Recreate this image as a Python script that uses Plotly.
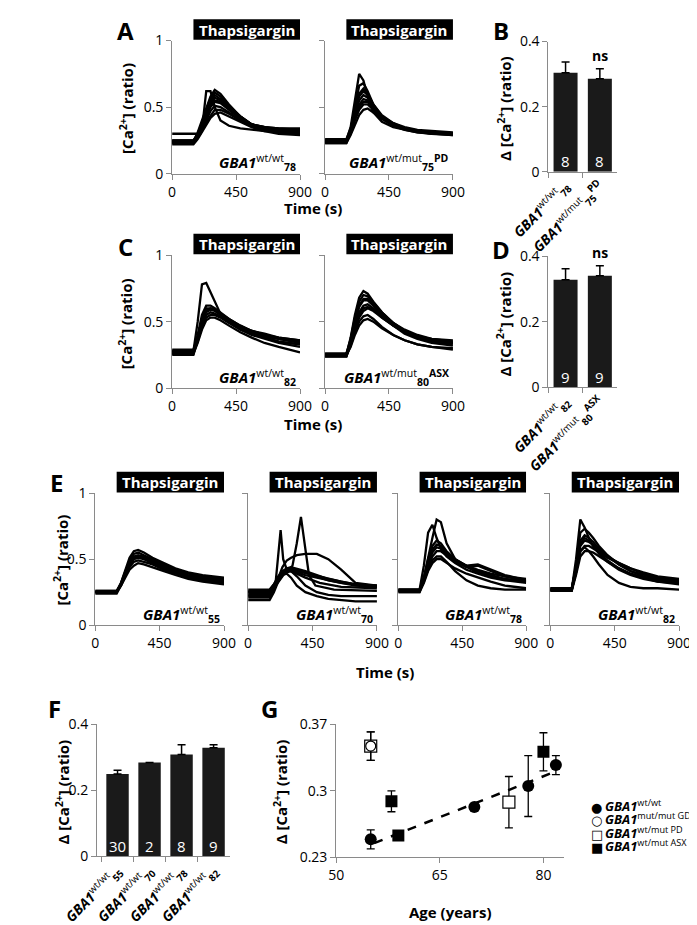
import plotly.graph_objects as go

W, H = 697, 925

# ---- calcium traces: shared time grid (s), one list of ratios per cell ----
T = [0, 150, 180, 210, 240, 270, 300, 340, 400, 480, 560, 650, 750, 900]

a_wt78 = [
    [0.30, 0.30, 0.30, 0.33, 0.62, 0.62, 0.50, 0.40, 0.36, 0.34, 0.33, 0.32, 0.32, 0.31],
    [0.24, 0.24, 0.31, 0.40, 0.50, 0.58, 0.63, 0.60, 0.52, 0.43, 0.37, 0.34, 0.33, 0.32],
    [0.25, 0.25, 0.30, 0.38, 0.48, 0.56, 0.61, 0.58, 0.51, 0.43, 0.37, 0.35, 0.34, 0.33],
    [0.23, 0.23, 0.29, 0.36, 0.45, 0.52, 0.57, 0.55, 0.49, 0.42, 0.37, 0.35, 0.33, 0.33],
    [0.24, 0.24, 0.28, 0.35, 0.43, 0.50, 0.54, 0.53, 0.48, 0.41, 0.36, 0.34, 0.33, 0.31],
    [0.25, 0.25, 0.28, 0.34, 0.41, 0.47, 0.51, 0.50, 0.46, 0.40, 0.36, 0.34, 0.33, 0.32],
    [0.23, 0.23, 0.27, 0.32, 0.39, 0.44, 0.48, 0.48, 0.45, 0.40, 0.36, 0.33, 0.31, 0.30],
    [0.22, 0.22, 0.26, 0.31, 0.37, 0.42, 0.45, 0.46, 0.43, 0.39, 0.35, 0.32, 0.30, 0.29],
    [0.24, 0.24, 0.30, 0.37, 0.47, 0.54, 0.59, 0.56, 0.50, 0.43, 0.37, 0.34, 0.32, 0.31],
    [0.24, 0.24, 0.29, 0.36, 0.44, 0.51, 0.55, 0.54, 0.49, 0.42, 0.37, 0.35, 0.34, 0.34],
]
a_pd75 = [
    [0.25, 0.25, 0.35, 0.55, 0.75, 0.70, 0.58, 0.46, 0.39, 0.35, 0.33, 0.31, 0.30, 0.30],
    [0.24, 0.24, 0.33, 0.50, 0.66, 0.68, 0.62, 0.52, 0.43, 0.37, 0.34, 0.32, 0.31, 0.30],
    [0.26, 0.26, 0.34, 0.48, 0.60, 0.64, 0.60, 0.52, 0.44, 0.38, 0.35, 0.33, 0.32, 0.31],
    [0.23, 0.23, 0.31, 0.45, 0.55, 0.59, 0.57, 0.50, 0.43, 0.37, 0.34, 0.32, 0.31, 0.30],
    [0.25, 0.25, 0.31, 0.43, 0.52, 0.56, 0.55, 0.50, 0.43, 0.38, 0.34, 0.32, 0.31, 0.30],
    [0.24, 0.24, 0.30, 0.40, 0.48, 0.52, 0.52, 0.48, 0.42, 0.37, 0.34, 0.32, 0.30, 0.29],
    [0.23, 0.23, 0.29, 0.37, 0.44, 0.48, 0.49, 0.46, 0.41, 0.36, 0.33, 0.31, 0.30, 0.29],
    [0.25, 0.25, 0.32, 0.46, 0.58, 0.62, 0.59, 0.51, 0.43, 0.37, 0.34, 0.32, 0.31, 0.30],
    [0.24, 0.24, 0.30, 0.42, 0.50, 0.54, 0.54, 0.49, 0.42, 0.37, 0.34, 0.32, 0.31, 0.30],
]
c_wt82 = [
    [0.28, 0.28, 0.50, 0.78, 0.79, 0.72, 0.64, 0.56, 0.50, 0.45, 0.41, 0.38, 0.35, 0.33],
    [0.27, 0.27, 0.40, 0.55, 0.62, 0.62, 0.60, 0.57, 0.52, 0.47, 0.43, 0.40, 0.37, 0.35],
    [0.26, 0.26, 0.38, 0.52, 0.60, 0.60, 0.59, 0.56, 0.51, 0.46, 0.42, 0.39, 0.37, 0.34],
    [0.28, 0.28, 0.38, 0.50, 0.57, 0.59, 0.58, 0.55, 0.51, 0.46, 0.43, 0.40, 0.38, 0.36],
    [0.25, 0.25, 0.36, 0.48, 0.55, 0.57, 0.56, 0.54, 0.50, 0.45, 0.41, 0.38, 0.35, 0.33],
    [0.27, 0.27, 0.35, 0.46, 0.53, 0.55, 0.55, 0.53, 0.49, 0.44, 0.40, 0.37, 0.34, 0.31],
    [0.26, 0.26, 0.34, 0.44, 0.51, 0.53, 0.53, 0.51, 0.47, 0.42, 0.38, 0.34, 0.31, 0.27],
    [0.29, 0.29, 0.39, 0.51, 0.58, 0.60, 0.59, 0.56, 0.52, 0.47, 0.43, 0.41, 0.38, 0.36],
]
c_asx80 = [
    [0.25, 0.25, 0.38, 0.55, 0.68, 0.73, 0.71, 0.65, 0.57, 0.49, 0.43, 0.39, 0.36, 0.34],
    [0.26, 0.26, 0.37, 0.53, 0.65, 0.70, 0.69, 0.64, 0.57, 0.49, 0.44, 0.40, 0.37, 0.35],
    [0.24, 0.24, 0.35, 0.50, 0.61, 0.66, 0.66, 0.62, 0.55, 0.48, 0.42, 0.38, 0.35, 0.33],
    [0.25, 0.25, 0.34, 0.47, 0.57, 0.62, 0.63, 0.60, 0.54, 0.47, 0.42, 0.38, 0.36, 0.34],
    [0.26, 0.26, 0.33, 0.44, 0.53, 0.58, 0.60, 0.58, 0.53, 0.47, 0.42, 0.39, 0.37, 0.36],
    [0.24, 0.24, 0.32, 0.42, 0.50, 0.54, 0.55, 0.52, 0.46, 0.40, 0.36, 0.33, 0.31, 0.29],
    [0.25, 0.25, 0.31, 0.40, 0.47, 0.51, 0.52, 0.50, 0.45, 0.40, 0.36, 0.33, 0.31, 0.30],
    [0.25, 0.25, 0.36, 0.51, 0.62, 0.67, 0.67, 0.63, 0.56, 0.49, 0.43, 0.39, 0.36, 0.34],
    [0.24, 0.24, 0.33, 0.45, 0.55, 0.60, 0.61, 0.59, 0.53, 0.47, 0.41, 0.37, 0.34, 0.32],
]
e_wt55 = [
    [0.25, 0.25, 0.32, 0.42, 0.51, 0.56, 0.57, 0.55, 0.51, 0.47, 0.43, 0.40, 0.38, 0.36],
    [0.26, 0.26, 0.32, 0.41, 0.49, 0.54, 0.55, 0.53, 0.50, 0.46, 0.42, 0.39, 0.37, 0.35],
    [0.25, 0.25, 0.31, 0.40, 0.47, 0.52, 0.53, 0.52, 0.49, 0.45, 0.41, 0.38, 0.36, 0.34],
    [0.24, 0.24, 0.30, 0.38, 0.45, 0.50, 0.51, 0.50, 0.47, 0.43, 0.40, 0.37, 0.35, 0.33],
    [0.25, 0.25, 0.30, 0.37, 0.44, 0.48, 0.49, 0.48, 0.46, 0.42, 0.39, 0.36, 0.34, 0.32],
    [0.26, 0.26, 0.30, 0.36, 0.42, 0.45, 0.47, 0.46, 0.44, 0.41, 0.38, 0.35, 0.33, 0.31],
    [0.25, 0.25, 0.31, 0.39, 0.46, 0.51, 0.52, 0.51, 0.48, 0.44, 0.40, 0.37, 0.35, 0.34],
]
e_wt70 = [
    [0.26, 0.26, 0.31, 0.37, 0.41, 0.43, 0.44, 0.43, 0.41, 0.38, 0.35, 0.33, 0.31, 0.30],
    [0.25, 0.25, 0.30, 0.36, 0.40, 0.42, 0.43, 0.42, 0.40, 0.37, 0.34, 0.32, 0.31, 0.29],
    [0.27, 0.27, 0.31, 0.36, 0.39, 0.41, 0.42, 0.41, 0.39, 0.37, 0.35, 0.33, 0.31, 0.30],
    [0.24, 0.24, 0.29, 0.34, 0.38, 0.40, 0.41, 0.40, 0.38, 0.36, 0.34, 0.32, 0.30, 0.29],
    [0.22, 0.22, 0.28, 0.35, 0.40, 0.42, 0.41, 0.37, 0.30, 0.25, 0.23, 0.22, 0.22, 0.22],
    [0.19, 0.19, 0.25, 0.33, 0.38, 0.39, 0.36, 0.30, 0.25, 0.22, 0.20, 0.19, 0.18, 0.18],
    [0.21, 0.21, 0.27, 0.36, 0.44, 0.49, 0.51, 0.53, 0.54, 0.54, 0.50, 0.42, 0.32, 0.30],
]
# the two narrow spikes in the 70-year-old line need their own time points
e_wt70_spike1_t = [0, 150, 190, 210, 227, 245, 270, 320, 400, 500, 650, 900]
e_wt70_spike1_y = [0.23, 0.23, 0.30, 0.50, 0.72, 0.50, 0.42, 0.40, 0.36, 0.32, 0.29, 0.28]
e_wt70_spike2_t = [0, 150, 200, 260, 310, 340, 369, 395, 425, 470, 600, 900]
e_wt70_spike2_y = [0.25, 0.25, 0.31, 0.40, 0.45, 0.62, 0.82, 0.62, 0.38, 0.30, 0.27, 0.26]

e_wt78 = [
    [0.27, 0.27, 0.45, 0.70, 0.76, 0.66, 0.58, 0.52, 0.47, 0.42, 0.39, 0.36, 0.34, 0.32],
    [0.26, 0.26, 0.36, 0.52, 0.66, 0.80, 0.78, 0.62, 0.50, 0.44, 0.40, 0.37, 0.35, 0.33],
    [0.27, 0.27, 0.36, 0.50, 0.60, 0.64, 0.62, 0.56, 0.50, 0.45, 0.41, 0.38, 0.35, 0.33],
    [0.25, 0.25, 0.34, 0.46, 0.55, 0.59, 0.58, 0.54, 0.49, 0.45, 0.46, 0.42, 0.38, 0.34],
    [0.26, 0.26, 0.33, 0.44, 0.52, 0.56, 0.56, 0.53, 0.48, 0.44, 0.45, 0.41, 0.37, 0.33],
    [0.27, 0.27, 0.33, 0.42, 0.49, 0.52, 0.52, 0.48, 0.41, 0.34, 0.30, 0.28, 0.27, 0.27],
    [0.25, 0.25, 0.32, 0.41, 0.47, 0.50, 0.50, 0.47, 0.43, 0.39, 0.36, 0.33, 0.30, 0.28],
    [0.26, 0.26, 0.35, 0.48, 0.57, 0.61, 0.60, 0.55, 0.50, 0.45, 0.42, 0.39, 0.37, 0.35],
]
e_wt82 = [
    [0.27, 0.27, 0.50, 0.80, 0.74, 0.66, 0.60, 0.54, 0.48, 0.42, 0.38, 0.35, 0.33, 0.32],
    [0.27, 0.27, 0.45, 0.70, 0.73, 0.70, 0.66, 0.60, 0.53, 0.46, 0.41, 0.37, 0.34, 0.32],
    [0.28, 0.28, 0.44, 0.64, 0.68, 0.66, 0.63, 0.58, 0.52, 0.46, 0.41, 0.38, 0.35, 0.33],
    [0.26, 0.26, 0.42, 0.60, 0.64, 0.63, 0.61, 0.57, 0.52, 0.47, 0.43, 0.39, 0.36, 0.34],
    [0.27, 0.27, 0.40, 0.56, 0.60, 0.60, 0.58, 0.55, 0.51, 0.47, 0.43, 0.40, 0.37, 0.35],
    [0.27, 0.27, 0.40, 0.56, 0.59, 0.56, 0.52, 0.46, 0.38, 0.32, 0.29, 0.28, 0.28, 0.27],
    [0.26, 0.26, 0.38, 0.52, 0.56, 0.56, 0.55, 0.52, 0.48, 0.43, 0.39, 0.36, 0.33, 0.31],
    [0.28, 0.28, 0.43, 0.62, 0.66, 0.64, 0.60, 0.55, 0.49, 0.43, 0.39, 0.36, 0.34, 0.33],
]

# ---- bar panels ----
b_labels = ["wt78", "pd75"]
b_vals = [0.304, 0.286]
b_err = [0.033, 0.030]
b_n = ["8", "8"]

d_labels = ["wt82", "asx80"]
d_vals = [0.328, 0.340]
d_err = [0.033, 0.030]
d_n = ["9", "9"]

f_labels = ["wt55", "wt70", "wt78", "wt82"]
f_vals = [0.249, 0.284, 0.308, 0.329]
f_err = [0.012, 0.0, 0.030, 0.009]
f_n = ["30", "2", "8", "9"]

# ---- G: response vs age ----
g_wt_age = [55, 70, 77.8, 81.8]
g_wt_val = [0.249, 0.283, 0.305, 0.327]
g_wt_err = [0.010, 0.0, 0.032, 0.010]
g_gd_age = [55]
g_gd_val = [0.347]
g_gd_err = [0.015]
g_pd_age = [55, 75]
g_pd_val = [0.347, 0.288]
g_pd_err = [0.015, 0.027]
g_asx_age = [58, 59, 80]
g_asx_val = [0.289, 0.253, 0.341]
g_asx_err = [0.011, 0.0, 0.020]
g_trend_age = [55.5, 82]
g_trend_val = [0.245, 0.321]

legend_sym = ["●", "○", "□", "■"]
legend_sup = ["wt/wt", "mut/mut GD", "wt/mut PD", "wt/mut ASX"]

FONT = "Open Sans"
GREY = "#8a8a8a"
LW = 2.3


def gba(sup, sub="", sup2=""):
    s = "<b><i>GBA1</i></b><sup>" + sup + "</sup>"
    if sub:
        s += "<sub><b>" + sub + "</b></sub>"
    if sup2:
        s += "<sup><b>" + sup2 + "</b></sup>"
    return s


tick_text = {
    "wt78": gba("wt/wt", "78"), "pd75": gba("wt/mut", "75", "PD"),
    "wt82": gba("wt/wt", "82"), "asx80": gba("wt/mut", "80", "ASX"),
    "wt55": gba("wt/wt", "55"), "wt70": gba("wt/wt", "70"),
}


def sfx(n):
    return "" if n == 1 else str(n)


fig = go.Figure()
layout = {}


def set_axes(n, x0, x1, ytop, ybot, xa, ya):
    base = dict(showgrid=False, zeroline=False, showline=True, linecolor=GREY,
                linewidth=1, ticks="outside", ticklen=5, tickcolor=GREY,
                tickfont=dict(family=FONT, size=14, color="black"))
    xd = dict(base, domain=[x0 / W, x1 / W], anchor="y" + sfx(n))
    xd.update(xa)
    yd = dict(base, domain=[1 - ybot / H, 1 - ytop / H], anchor="x" + sfx(n))
    yd.update(ya)
    layout["xaxis" + sfx(n)] = xd
    layout["yaxis" + sfx(n)] = yd


annotations = []
shapes = []

# trace panels: (axis number, data, x left, x right, y top, y bottom, label, show y labels)
trace_panels = [
    (1, a_wt78, 135, 273, 23, 159, gba("wt/wt", "78"), True),
    (2, a_pd75, 300, 438, 23, 159, gba("wt/mut", "75", "PD"), False),
    (4, c_wt82, 135, 273, 242, 378, gba("wt/wt", "82"), True),
    (5, c_asx80, 300, 438, 242, 378, gba("wt/mut", "80", "ASX"), False),
    (7, e_wt55, 52, 191, 485, 620, gba("wt/wt", "55"), True),
    (8, e_wt70, 217, 356, 485, 620, gba("wt/wt", "70"), False),
    (9, e_wt78, 379, 517, 485, 620, gba("wt/wt", "78"), False),
    (10, e_wt82, 543, 682, 485, 620, gba("wt/wt", "82"), False),
]

for n, data, x0, x1, yt, yb, lab, showy in trace_panels:
    set_axes(n, x0, x1, yt, yb,
             dict(range=[0, 900], tickvals=[0, 450, 900]),
             dict(range=[0, 1], tickvals=[0, 0.5, 1], ticktext=["0", "0.5", "1"],
                  showticklabels=showy))
    for ys in data:
        fig.add_trace(go.Scatter(x=T, y=ys, mode="lines",
                                 line=dict(color="black", width=LW),
                                 xaxis="x" + sfx(n), yaxis="y" + sfx(n),
                                 showlegend=False, hoverinfo="skip"))
    if n == 8:
        for tt, yy in [(e_wt70_spike1_t, e_wt70_spike1_y), (e_wt70_spike2_t, e_wt70_spike2_y)]:
            fig.add_trace(go.Scatter(x=tt, y=yy, mode="lines",
                                     line=dict(color="black", width=LW),
                                     xaxis="x8", yaxis="y8",
                                     showlegend=False, hoverinfo="skip"))
    bh = 21 / (yb - yt)
    shapes.append(dict(type="rect", xref="x" + sfx(n), yref="y" + sfx(n) + " domain",
                       x0=150, x1=900, y0=1.005, y1=1.005 + bh,
                       fillcolor="black", line=dict(width=0)))
    annotations.append(dict(text="<b>Thapsigargin</b>", xref="x" + sfx(n),
                            yref="y" + sfx(n) + " domain", x=172, y=1.005 + bh / 2,
                            xanchor="left", yanchor="middle", showarrow=False,
                            font=dict(family=FONT, size=15, color="white")))
    annotations.append(dict(text=lab, xref="paper", yref="paper",
                            x=(x1 - 2) / W, y=1 - (yb - 11) / H,
                            xanchor="right", yanchor="middle", showarrow=False,
                            font=dict(family=FONT, size=15, color="black")))

# bar panels
bar_panels = [
    (3, b_labels, b_vals, b_err, b_n, 541, 615, 24, 157, [-0.5, 1.5], True),
    (6, d_labels, d_vals, d_err, d_n, 541, 615, 243, 377, [-0.5, 1.5], True),
    (11, f_labels, f_vals, f_err, f_n, 54, 197, 721, 856, [-0.64, 3.5], False),
]
for n, labs, vals, err, ns, x0, x1, yt, yb, xr, show_ns in bar_panels:
    set_axes(n, x0, x1, yt, yb,
             dict(type="category", range=xr, tickson="boundaries", tickangle=-45,
                  tickvals=labs, ticktext=[tick_text[k] for k in labs],
                  tickfont=dict(family=FONT, size=14, color="black")),
             dict(range=[0, 0.4], tickvals=[0, 0.2, 0.4], ticktext=["0", "0.2", "0.4"]))
    fig.add_trace(go.Bar(x=labs, y=vals, width=0.7, marker=dict(color="#1a1a1a", line=dict(width=0)),
                         error_y=dict(type="data", array=err, arrayminus=[0] * len(err),
                                      symmetric=False, color="black", thickness=1.5, width=4),
                         xaxis="x" + sfx(n), yaxis="y" + sfx(n),
                         showlegend=False, hoverinfo="skip"))
    for k, lab in enumerate(labs):
        annotations.append(dict(text=ns[k], xref="x" + sfx(n), yref="y" + sfx(n) + " domain",
                                x=lab, y=0.08, showarrow=False, yanchor="middle",
                                font=dict(family=FONT, size=15, color="white")))
    if show_ns:
        annotations.append(dict(text="<b>ns</b>", xref="x" + sfx(n), yref="y" + sfx(n),
                                x=labs[1], y=vals[1] + err[1], yshift=13, showarrow=False,
                                font=dict(family=FONT, size=14, color="black")))

# panel G
set_axes(12, 312, 558, 721, 857,
         dict(range=[50, 83], tickvals=[50, 65, 80]),
         dict(range=[0.23, 0.37], tickvals=[0.23, 0.30, 0.37], ticktext=["0.23", "0.3", "0.37"]))
fig.add_trace(go.Scatter(x=g_trend_age, y=g_trend_val, mode="lines",
                         line=dict(color="black", width=2.5, dash="dash"),
                         xaxis="x12", yaxis="y12", showlegend=False, hoverinfo="skip"))
eb = dict(type="data", color="black", thickness=1.3, width=4)
fig.add_trace(go.Scatter(x=g_wt_age, y=g_wt_val, mode="markers",
                         error_y=dict(eb, array=g_wt_err),
                         marker=dict(symbol="circle", size=12, color="black"),
                         xaxis="x12", yaxis="y12", showlegend=False, hoverinfo="skip"))
fig.add_trace(go.Scatter(x=g_pd_age, y=g_pd_val, mode="markers",
                         error_y=dict(eb, array=g_pd_err),
                         marker=dict(symbol="square", size=12, color="white",
                                     line=dict(color="black", width=1.2)),
                         xaxis="x12", yaxis="y12", showlegend=False, hoverinfo="skip"))
fig.add_trace(go.Scatter(x=g_gd_age, y=g_gd_val, mode="markers",
                         error_y=dict(eb, array=g_gd_err),
                         marker=dict(symbol="circle", size=10, color="white",
                                     line=dict(color="black", width=1.2)),
                         xaxis="x12", yaxis="y12", showlegend=False, hoverinfo="skip"))
fig.add_trace(go.Scatter(x=g_asx_age, y=g_asx_val, mode="markers",
                         error_y=dict(eb, array=g_asx_err),
                         marker=dict(symbol="square", size=12, color="black"),
                         xaxis="x12", yaxis="y12", showlegend=False, hoverinfo="skip"))

# legend for G: symbol and label as separate text lines
for k, (sym, sup) in enumerate(zip(legend_sym, legend_sup)):
    yk = 1 - (806 + 13.7 * k) / H
    annotations.append(dict(text=sym, xref="paper", yref="paper", x=593 / W, y=yk,
                            xanchor="center", yanchor="middle", showarrow=False,
                            font=dict(family="DejaVu Sans", size=13, color="black")))
    annotations.append(dict(text="<b><i>GBA1</i></b><sup>%s</sup>" % sup,
                            xref="paper", yref="paper", x=600 / W, y=yk, yshift=2,
                            xanchor="left", yanchor="middle", showarrow=False,
                            font=dict(family=FONT, size=13, color="black")))


def text(s, x, y, size=15, angle=0, bold=True):
    annotations.append(dict(text=("<b>" + s + "</b>") if bold else s, xref="paper", yref="paper",
                            x=x / W, y=1 - y / H, showarrow=False, textangle=angle,
                            xanchor="center", yanchor="middle",
                            font=dict(family=FONT, size=size, color="black")))


ca = "[Ca<sup>2+</sup>] (ratio)"
text(ca, 85, 92, angle=-90)
text(ca, 85, 312, angle=-90)
text(ca, 15, 553, angle=-90)
text("Δ " + ca, 493, 92, angle=-90)
text("Δ " + ca, 493, 312, angle=-90)
text("Δ " + ca, 17, 790, angle=-90)
text("Δ " + ca, 252, 790, angle=-90)
text("Time (s)", 287, 194)
text("Time (s)", 287, 415)
text("Time (s)", 365, 668)
text("Age (years)", 435, 913)
for letter, lx, ly in [("A", 85, 13), ("B", 490, 13), ("C", 85, 233), ("D", 490, 236),
                       ("E", 10, 474), ("F", 8, 705), ("G", 240, 705)]:
    text(letter, lx, ly, size=24)

fig.update_layout(**layout)
fig.update_layout(
    width=W, height=H, margin=dict(l=0, r=0, t=0, b=0),
    paper_bgcolor="white", plot_bgcolor="white",
    font=dict(family=FONT, color="black"),
    annotations=annotations, shapes=shapes,
    showlegend=False,
)
fig.write_html("out.html")
